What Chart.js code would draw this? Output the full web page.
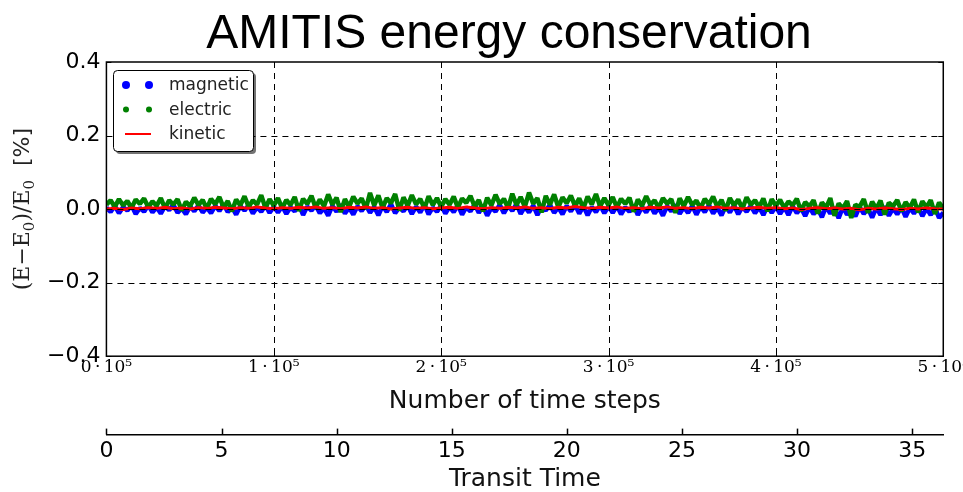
<!DOCTYPE html>
<html>
<head>
<meta charset="utf-8">
<title>AMITIS energy conservation</title>
<script src="https://cdn.jsdelivr.net/npm/chart.js@4.4.1/dist/chart.umd.min.js"></script>
<style>
    html, body { margin: 0; padding: 0; background: #fff; overflow: hidden; }
    #wrap { width: 963px; height: 492px; overflow: hidden; }
    canvas { display: block; }
</style>
</head>
<body>
<div id="wrap"><canvas id="energyChart" width="970" height="492"></canvas></div>
<script>
// Titles and tick labels
const chartTitle = 'AMITIS energy conservation';
const stepTickLabels = ['0\u2009·\u200910⁵', '1\u2009·\u200910⁵', '2\u2009·\u200910⁵', '3\u2009·\u200910⁵', '4\u2009·\u200910⁵', '5\u2009·\u200910⁵'];
const yTickLabels = ['−0.4', '−0.2', '0.0', '0.2', '0.4'];
const transitTickLabels = ['0', '5', '10', '15', '20', '25', '30', '35'];
const transitMax = 36.35;   // transit times covered by 5·10^5 steps

// Relative energy change in %, sampled every 2500 steps (magnetic / electric)
const sampleStep = 2500;
const electricValues = [
    0.012, 0.024, 0.006, 0.027, 0.010, 0.022, 0.003, 0.026, 0.014, 0.029, 0.005, 0.021, 0.009, 0.030, 0.002, 0.024, 0.012, 0.027, -0.004, 0.020,
    0.008, 0.031, 0.011, 0.025, 0.001, 0.028, 0.013, 0.033, 0.004, 0.022, -0.006, 0.026, 0.010, 0.035, 0.006, 0.024, 0.012, 0.038, 0.003, 0.027, 0.009,
    0.030, 0.002, 0.025, 0.011, 0.033, -0.005, 0.028, 0.014, 0.036, 0.004, 0.026, 0.008, 0.040, 0.012, 0.031, -0.008, 0.027, 0.006, 0.034, 0.015,
    0.029, 0.001, 0.044, 0.010, 0.037, 0.003, 0.030, 0.016, 0.041, -0.004, 0.032, 0.009, 0.038, 0.013, 0.028, 0.002, 0.035, 0.011, 0.030, 0.006,
    0.027, 0.012, 0.034, 0.004, 0.029, 0.017, 0.036, 0.007, 0.025, -0.006, 0.031, 0.010, 0.039, 0.014, 0.028, 0.003, 0.042, 0.011, 0.033, 0.006,
    0.045, 0.015, 0.030, -0.009, 0.036, 0.012, 0.040, 0.005, 0.032, 0.016, 0.037, 0.008, 0.029, 0.002, 0.034, 0.013, 0.041, 0.007, 0.030, 0.010,
    0.033, 0.004, 0.028, 0.014, 0.031, -0.007, 0.026, 0.009, 0.035, 0.012, 0.024, 0.003, 0.030, 0.015, 0.027, -0.010, 0.029, 0.008, 0.033, 0.011,
    0.023, 0.002, 0.028, 0.013, 0.034, 0.006, 0.025, -0.004, 0.030, 0.010, 0.026, 0.001, 0.032, 0.012, 0.024, 0.005, 0.029, -0.006, 0.027, 0.009,
    0.025, 0.003, 0.021, 0.010, 0.028, -0.005, 0.019, 0.007, 0.024, -0.012, 0.018, 0.004, 0.030, -0.018, 0.015, 0.002, 0.022, -0.024, 0.012, 0.006,
    0.027, -0.010, 0.020, 0.001, 0.023, -0.015, 0.017, 0.008, 0.025, -0.006, 0.019, 0.003, 0.026, -0.009, 0.021, 0.005, 0.024, -0.013, 0.018, 0.002
];
const magneticValues = [
    0.004, -0.008, 0.009, -0.011, 0.006, -0.004, 0.010, -0.013, 0.003, -0.007, 0.011, -0.009, 0.005, -0.012, 0.008, -0.003, 0.012, -0.010, 0.002, -0.014,
    0.007, -0.006, 0.010, -0.009, 0.004, -0.011, 0.009, -0.005, 0.013, -0.008, 0.006, -0.015, 0.008, -0.004, 0.011, -0.012, 0.005, -0.007, 0.010, -0.010, 0.006,
    -0.009, 0.008, -0.013, 0.005, -0.006, 0.012, -0.016, 0.007, -0.004, 0.010, -0.011, 0.003, -0.018, 0.009, -0.007, 0.013, -0.012, 0.004, -0.015, 0.008,
    -0.005, 0.011, -0.010, 0.006, -0.017, 0.009, -0.008, 0.014, -0.011, 0.005, -0.006, 0.010, -0.013, 0.007, -0.009, 0.012, -0.014, 0.004, -0.007, 0.009,
    -0.012, 0.006, -0.008, 0.011, -0.015, 0.005, -0.006, 0.013, -0.010, 0.008, -0.018, 0.004, -0.007, 0.012, -0.011, 0.009, -0.005, 0.014, -0.013, 0.006,
    -0.009, 0.010, -0.016, 0.007, -0.004, 0.012, -0.010, 0.005, -0.014, 0.009, -0.006, 0.011, -0.012, 0.008, -0.017, 0.006, -0.008, 0.010, -0.011, 0.007,
    -0.010, 0.009, -0.014, 0.005, -0.007, 0.011, -0.016, 0.006, -0.009, 0.010, -0.012, 0.004, -0.018, 0.008, -0.006, 0.012, -0.013, 0.005, -0.010, 0.009,
    -0.015, 0.007, -0.008, 0.011, -0.012, 0.004, -0.017, 0.008, -0.009, 0.010, -0.014, 0.006, -0.007, 0.009, -0.011, 0.005, -0.016, 0.008, -0.010, 0.007,
    -0.013, 0.005, -0.016, 0.008, -0.011, 0.003, -0.019, 0.006, -0.014, 0.002, -0.022, 0.007, -0.012, 0.004, -0.025, 0.005, -0.015, 0.001, -0.020, 0.006,
    -0.013, 0.003, -0.023, 0.004, -0.016, 0.007, -0.018, 0.002, -0.014, 0.005, -0.021, 0.003, -0.012, 0.006, -0.019, 0.002, -0.016, 0.004, -0.024, -0.010
];

// Kinetic energy is smoother, sampled every 5000 steps
const kineticStep = 5000;
const kineticValues = [
    0.000, 0.002, -0.001, 0.003, 0.001, 0.004, 0.002, 0.005, 0.001, 0.003,
    0.000, 0.004, 0.002, 0.005, 0.003, 0.001, 0.004, 0.002, 0.006, 0.003,
    0.001, 0.004, 0.002, 0.005, 0.003, 0.006, 0.002, 0.004, 0.001, 0.005,
    0.003, 0.006, 0.002, 0.004, 0.000, 0.003, 0.005, 0.002, 0.004, 0.001,
    0.003, 0.005, 0.002, 0.006, 0.003, 0.001, 0.004, 0.002, 0.005, 0.003,
    0.006, 0.002, 0.004, 0.001, 0.005, 0.003, 0.007, 0.004, 0.002, 0.005,
    0.003, 0.006, 0.002, 0.004, 0.001, 0.005, 0.003, 0.006, 0.002, 0.004,
    0.001, 0.005, 0.003, 0.006, 0.002, 0.004, 0.000, 0.003, 0.005, 0.002,
    0.004, 0.001, 0.003, -0.001, 0.002, 0.004, 0.001, 0.003, 0.000, 0.002,
    -0.002, 0.002, 0.000, 0.003, 0.001, -0.001, 0.002, 0.000, 0.003, 0.001,
    0.000
];

function toPoints(values, step) {
    return values.map((v, i) => ({ x: i * step, y: v }));
}

// Title, y label, legend, dashed grid, frame and the ticks of the transit axis
const decorPlugin = {
    id: 'decor',
    afterDatasetsDraw(chart) {
        const { ctx, chartArea: a, scales } = chart;
        ctx.save();
        ctx.strokeStyle = '#000';
        ctx.lineWidth = 1;
        ctx.setLineDash([6, 5]);
        scales.x.ticks.forEach(t => {
            const px = Math.round(scales.x.getPixelForValue(t.value)) + 0.5;
            if (px <= a.left + 2 || px >= a.right - 2) return;
            ctx.beginPath(); ctx.moveTo(px, a.top); ctx.lineTo(px, a.bottom); ctx.stroke();
        });
        scales.y.ticks.forEach(t => {
            const py = Math.round(scales.y.getPixelForValue(t.value)) + 0.5;
            if (py <= a.top + 2 || py >= a.bottom - 2) return;
            ctx.beginPath(); ctx.moveTo(a.left, py); ctx.lineTo(a.right, py); ctx.stroke();
        });
        ctx.setLineDash([]);

        // small inward ticks on all sides
        ctx.lineWidth = 1;
        scales.x.ticks.forEach(t => {
            const px = Math.round(scales.x.getPixelForValue(t.value)) + 0.5;
            ctx.beginPath();
            ctx.moveTo(px, a.bottom); ctx.lineTo(px, a.bottom - 5);
            ctx.moveTo(px, a.top); ctx.lineTo(px, a.top + 5);
            ctx.stroke();
        });
        scales.y.ticks.forEach(t => {
            const py = Math.round(scales.y.getPixelForValue(t.value)) + 0.5;
            ctx.beginPath();
            ctx.moveTo(a.left, py); ctx.lineTo(a.left + 5, py);
            ctx.moveTo(a.right, py); ctx.lineTo(a.right - 5, py);
            ctx.stroke();
        });

        ctx.lineWidth = 1.5;
        ctx.strokeRect(a.left, a.top, a.right - a.left, a.bottom - a.top);
        ctx.restore();
    },
    afterDraw(chart) {
        const { ctx, chartArea: a, scales } = chart;
        ctx.save();

        // main title
        ctx.fillStyle = '#000';
        ctx.font = '48px "Liberation Sans", Arial, sans-serif';
        ctx.textAlign = 'center';
        ctx.textBaseline = 'alphabetic';
        ctx.fillText(chartTitle, 509, 48);

        // ticks of the transit time axis point up from its line
        const x2 = scales.x2;
        ctx.strokeStyle = '#000';
        ctx.lineWidth = 1.5;
        x2.ticks.forEach(t => {
            const px = Math.round(x2.getPixelForValue(t.value)) + 0.5;
            ctx.beginPath(); ctx.moveTo(px, x2.top); ctx.lineTo(px, x2.top - 6); ctx.stroke();
        });

        // y label with subscripts
        const serif = '22px "DejaVu Serif", serif';
        const sub = '15px "DejaVu Serif", serif';
        const parts = [
            { t: '(E−E', f: serif, dy: 0 },
            { t: '0', f: sub, dy: 5 },
            { t: ')/E', f: serif, dy: 0 },
            { t: '0', f: sub, dy: 5 },
            { t: '  [%]', f: '22px "DejaVu Sans", sans-serif', dy: 0 }
        ];
        let total = 0;
        parts.forEach(p => { ctx.font = p.f; p.w = ctx.measureText(p.t).width; total += p.w; });
        ctx.translate(21, (a.top + a.bottom) / 2);
        ctx.rotate(-Math.PI / 2);
        ctx.textAlign = 'left';
        ctx.fillStyle = '#222';
        let xx = -total / 2;
        parts.forEach(p => {
            ctx.font = p.f;
            ctx.fillText(p.t, xx, 8 + p.dy);
            xx += p.w;
        });
        ctx.setTransform(1, 0, 0, 1, 0, 0);

        // legend box with shadow
        const bx = 113, by = 70, bw = 140, bh = 81;
        ctx.fillStyle = 'rgba(0,0,0,0.55)';
        ctx.beginPath(); ctx.roundRect(bx + 3, by + 3, bw, bh, 4); ctx.fill();
        ctx.fillStyle = '#fff';
        ctx.strokeStyle = '#000';
        ctx.lineWidth = 1;
        ctx.beginPath(); ctx.roundRect(bx + 0.5, by + 0.5, bw, bh, 4); ctx.fill(); ctx.stroke();

        ctx.font = '17px "DejaVu Sans", sans-serif';
        ctx.textBaseline = 'middle';
        ctx.textAlign = 'left';
        chart.data.datasets.forEach((ds, i) => {
            const ly = by + 15 + i * 24.5;
            if (ds.legendMarker === 'line') {
                ctx.strokeStyle = ds.borderColor;
                ctx.lineWidth = 2;
                ctx.beginPath(); ctx.moveTo(125, ly); ctx.lineTo(151, ly); ctx.stroke();
            } else {
                ctx.fillStyle = ds.borderColor;
                [126, 149].forEach(dx => {
                    ctx.beginPath(); ctx.arc(dx, ly, ds.legendDot, 0, Math.PI * 2); ctx.fill();
                });
            }
            ctx.fillStyle = '#222';
            ctx.fillText(ds.label, 169, ly + 1);
        });
        ctx.restore();
    }
};

const ctx = document.getElementById('energyChart').getContext('2d');

const energyChart = new Chart(ctx, {
    type: 'line',
    data: {
        datasets: [{
            label: 'magnetic',
            data: toPoints(magneticValues, sampleStep),
            borderColor: '#0000ff',
            borderWidth: 4.5,
            borderJoinStyle: 'bevel',
            pointRadius: 0,
            tension: 0,
            order: 2,
            legendMarker: 'dot',
            legendDot: 4
        }, {
            label: 'electric',
            data: toPoints(electricValues, sampleStep),
            borderColor: '#008000',
            borderWidth: 4.5,
            borderJoinStyle: 'bevel',
            pointRadius: 0,
            tension: 0,
            order: 1,
            legendMarker: 'dot',
            legendDot: 3
        }, {
            label: 'kinetic',
            data: toPoints(kineticValues, kineticStep),
            borderColor: '#ff0000',
            borderWidth: 3,
            borderJoinStyle: 'round',
            pointRadius: 0,
            tension: 0,
            order: 0,
            legendMarker: 'line'
        }]
    },
    options: {
        responsive: false,
        animation: false,
        layout: { padding: { top: 62, left: 41, right: 0, bottom: 0 } },
        plugins: {
            legend: { display: false },
            tooltip: { enabled: false },
            title: { display: false }
        },
        scales: {
            x: {
                type: 'linear',
                position: 'bottom',
                min: 0,
                max: 500000,
                weight: 0,
                ticks: {
                    stepSize: 100000,
                    includeBounds: false,
                    autoSkip: false,
                    maxRotation: 0,
                    padding: 1,
                    color: '#000',
                    font: { family: 'DejaVu Serif', size: 17 },
                    callback: (v, i) => stepTickLabels[i]
                },
                grid: { display: false, drawTicks: false },
                border: { display: false },
                title: {
                    display: true,
                    text: 'Number of time steps',
                    color: '#111',
                    font: { family: 'DejaVu Sans', size: 25 },
                    padding: { top: 8, bottom: 18 }
                }
            },
            x2: {
                type: 'linear',
                position: 'bottom',
                min: 0,
                max: transitMax,
                weight: 1,
                ticks: {
                    stepSize: 5,
                    includeBounds: false,
                    autoSkip: false,
                    maxRotation: 0,
                    padding: 3,
                    color: '#000',
                    font: { family: 'DejaVu Sans', size: 22 },
                    callback: (v, i) => transitTickLabels[i]
                },
                grid: { display: false, drawTicks: false },
                border: { display: true, color: '#000', width: 1.5 },
                title: {
                    display: true,
                    text: 'Transit Time',
                    color: '#111',
                    font: { family: 'DejaVu Sans', size: 25, lineHeight: 1 },
                    padding: { top: 0, bottom: 0 }
                }
            },
            y: {
                min: -0.4,
                max: 0.4,
                ticks: {
                    stepSize: 0.2,
                    includeBounds: false,
                    padding: 6,
                    color: '#000',
                    font: { family: 'DejaVu Sans', size: 22 },
                    callback: (v, i) => yTickLabels[i]
                },
                grid: { display: false, drawTicks: false },
                border: { display: false }
            }
        }
    },
    plugins: [decorPlugin]
});
</script>
</body>
</html>
